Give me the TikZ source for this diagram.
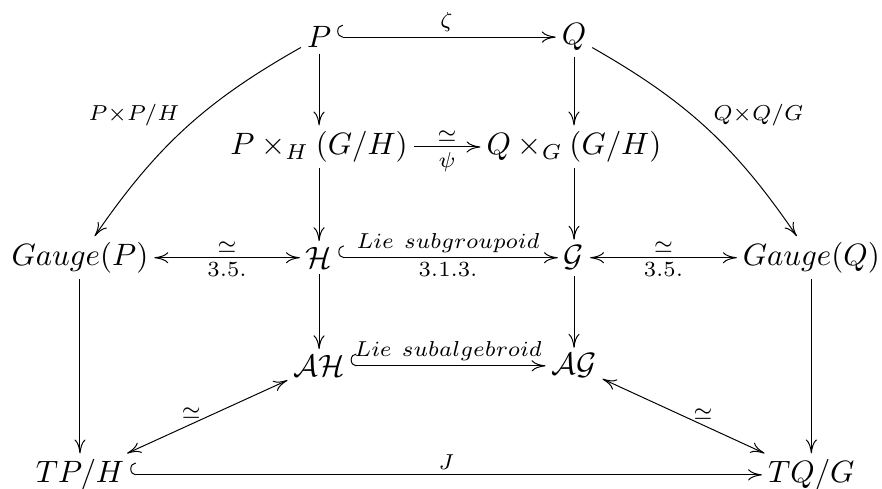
\documentclass[tikz,border=0pt]{standalone}
\usetikzlibrary{arrows.meta}
\begin{document}
\begin{tikzpicture}[>={To[length=4.5pt,width=3.6pt]},line width=0.32pt,
	obj/.style={inner sep=1.8pt},
	lbl/.style={inner sep=1.5pt},
	hk/.style={{Hooks[right,length=1.8pt,width=8pt]}->}]
	\useasboundingbox (0,0) rectangle (10.034,5.552);
	% objects
	\node[obj] (P) at (3.63,5.13) {$P$};
	\node[obj] (Q) at (6.53,5.13) {$Q$};
	\node[obj] (PH) at (3.63,3.88) {$P\times_H(G/H)$};
	\node[obj] (QG) at (6.53,3.88) {$Q\times_G(G/H)$};
	\node[obj] (GaP) at (0.91,2.62) {$Gauge(P)$};
	\node[obj] (H) at (3.63,2.62) {$\mathcal{H}$};
	\node[obj] (G) at (6.53,2.62) {$\mathcal{G}$};
	\node[obj] (GaQ) at (9.23,2.62) {$Gauge(Q)$};
	\node[obj] (AH) at (3.63,1.39) {$\mathcal{AH}$};
	\node[obj] (AG) at (6.53,1.39) {$\mathcal{AG}$};
	\node[obj] (TPH) at (0.91,0.15) {$TP/H$};
	\node[obj] (TQG) at (9.23,0.15) {$TQ/G$};
	% arrows
	\draw[hk] (P) -- node[lbl,above] (zeta) {$\scriptstyle\zeta$} (Q);
	\draw[->] (P) -- (PH);
	\draw[->] (Q) -- (QG);
	\draw[->] (PH) -- node[lbl,above] (iso1) {$\scriptstyle\simeq$} node[lbl,below] (psi) {$\scriptstyle\psi$} (QG);
	\draw[->] (PH) -- (H);
	\draw[->] (QG) -- (G);
	\draw[<->] (GaP) -- node[lbl,above] (iso2) {$\scriptstyle\simeq$} node[lbl,below] (ref1) {$\scriptstyle 3.5.$} (H);
	\draw[hk] (H) -- node[lbl,above] (sgr) {$\scriptstyle Lie\ subgroupoid$} node[lbl,below] (ref2) {$\scriptstyle 3.1.3.$} (G);
	\draw[<->] (G) -- node[lbl,above] (iso3) {$\scriptstyle\simeq$} node[lbl,below] (ref3) {$\scriptstyle 3.5.$} (GaQ);
	\draw[->] (H) -- (AH);
	\draw[->] (G) -- (AG);
	\draw[hk] (AH) -- node[lbl,above] (sal) {$\scriptstyle Lie\ subalgebroid$} (AG);
	\draw[->] (GaP) -- (TPH);
	\draw[->] (GaQ) -- (TQG);
	\draw[<->] (TPH) -- node[lbl,above,pos=.4] (iso4) {$\scriptstyle\simeq$} (AH);
	\draw[<->] (AG) -- node[lbl,above,pos=.62] (iso5) {$\scriptstyle\simeq$} (TQG);
	\draw[hk] (TPH) -- node[lbl,above] (jay) {$\scriptstyle J$} (TQG);
	\draw[->] (P) to[bend right=13] node[lbl,pos=.38,left=8pt,yshift=-2.3pt] (pph) {$\scriptstyle P\times P/H$} (GaP);
	\draw[->] (Q) to[bend left=13] node[lbl,pos=.38,right=8pt,yshift=-2.3pt] (qqg) {$\scriptstyle Q\times Q/G$} (GaQ);
\end{tikzpicture}
\end{document}
